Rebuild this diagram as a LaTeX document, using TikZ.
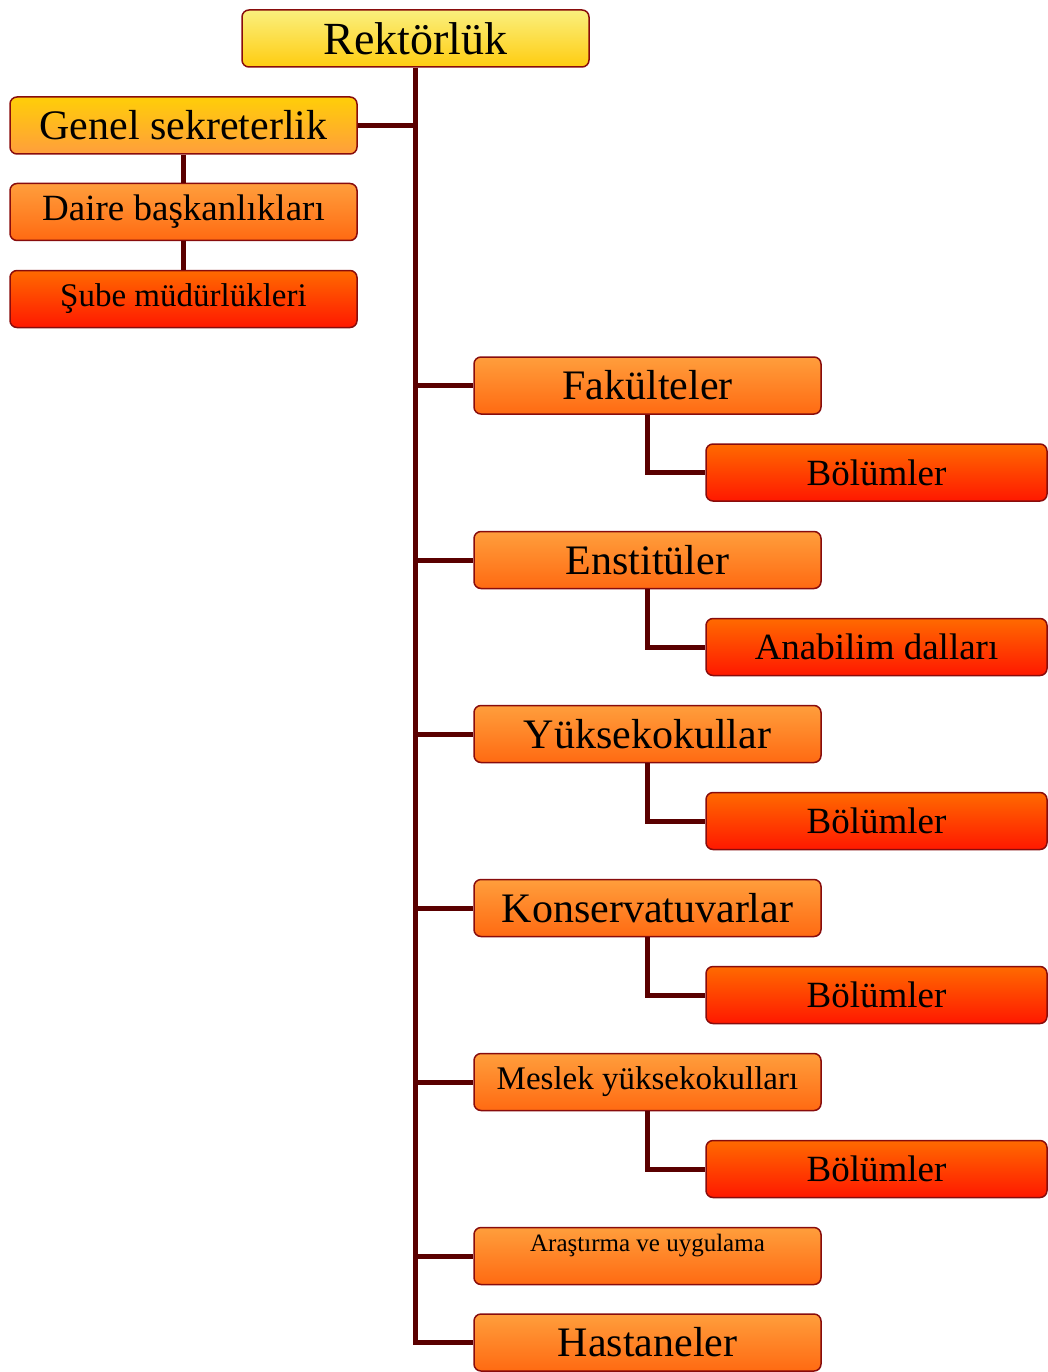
\documentclass[tikz,border=0pt]{standalone}
\usepackage{fontspec}
\setmainfont{Liberation Serif}
\definecolor{linkred}{HTML}{5A0000}
\definecolor{edgered}{HTML}{880C0C}
\definecolor{paleyellow}{HTML}{FAF07E}
\definecolor{deepyellow}{HTML}{FFCC10}
\definecolor{goldtop}{HTML}{FFCE08}
\definecolor{lightorange}{HTML}{FF9E3C}
\definecolor{midorange}{HTML}{FF6A12}
\definecolor{redtop}{HTML}{FF6A00}
\definecolor{redbottom}{HTML}{FF1800}
\tikzset{
  unit/.style={draw=edgered, line width=1.5pt, rounded corners=7pt,
    minimum width=347pt, minimum height=57pt, inner sep=0pt, text=black},
  yellowunit/.style={unit, top color=paleyellow, bottom color=deepyellow},
  goldunit/.style={unit, top color=goldtop, bottom color=lightorange},
  orangeunit/.style={unit, top color=lightorange, bottom color=midorange},
  redunit/.style={unit, minimum width=341pt, top color=redtop, bottom color=redbottom},
  link/.style={draw=linkred, line width=5pt}
}
\newcommand{\fs}[1]{\fontsize{#1}{#1}\selectfont}
\begin{document}
\begin{tikzpicture}[x=1pt, y=-1pt]
\useasboundingbox (0,0) rectangle (1048,1372);

\node[yellowunit, font=\fs{46}] (rek) at (415.5,38.5) {Rektörlük};

\node[goldunit, font=\fs{42}] (gen) at (183.5,125.5) {Genel sekreterlik};
\node[orangeunit, font=\fs{37}] (dai) at (183.5,212) {Daire başkanlıkları};
\node[redunit, minimum width=347pt, font=\fs{33}] (sub) at (183.5,299) {Şube müdürlükleri};

\node[orangeunit, font=\fs{42}] (fak) at (647.5,385.5) {Fakülteler};
\node[redunit, font=\fs{37}] (bol1) at (876.5,472.5) {Bölümler};
\node[orangeunit, font=\fs{42}] (ens) at (647.5,560) {Enstitüler};
\node[redunit, font=\fs{37}] (ana) at (876.5,647) {Anabilim dalları};
\node[orangeunit, font=\fs{42}] (yuk) at (647.5,734) {Yüksekokullar};
\node[redunit, font=\fs{37}] (bol2) at (876.5,821) {Bölümler};
\node[orangeunit, font=\fs{42}] (kon) at (647.5,908) {Konservatuvarlar};
\node[redunit, font=\fs{37}] (bol3) at (876.5,995) {Bölümler};
\node[orangeunit, font=\fs{33}] (mes) at (647.5,1082) {Meslek yüksekokulları};
\node[redunit, font=\fs{37}] (bol4) at (876.5,1169) {Bölümler};
\node[orangeunit] (ara) at (647.5,1256) {};
\node[font=\fs{25}] (aratext) at (647.5,1246) {Araştırma ve uygulama};
\node[orangeunit, font=\fs{42}] (has) at (647.5,1342.5) {Hastaneler};

% trunk
\draw[link] (rek.south) |- (has.west);
\draw[link] (gen.east) -- (gen.east -| rek.south);
\draw[link] (rek.south |- fak.west) -- (fak.west);
\draw[link] (rek.south |- ens.west) -- (ens.west);
\draw[link] (rek.south |- yuk.west) -- (yuk.west);
\draw[link] (rek.south |- kon.west) -- (kon.west);
\draw[link] (rek.south |- mes.west) -- (mes.west);
\draw[link] (rek.south |- ara.west) -- (ara.west);

% left column
\draw[link] (gen.south) -- (dai.north);
\draw[link] (dai.south) -- (sub.north);

% sub units
\draw[link] (fak.south) |- (bol1.west);
\draw[link] (ens.south) |- (ana.west);
\draw[link] (yuk.south) |- (bol2.west);
\draw[link] (kon.south) |- (bol3.west);
\draw[link] (mes.south) |- (bol4.west);
\end{tikzpicture}
\end{document}
